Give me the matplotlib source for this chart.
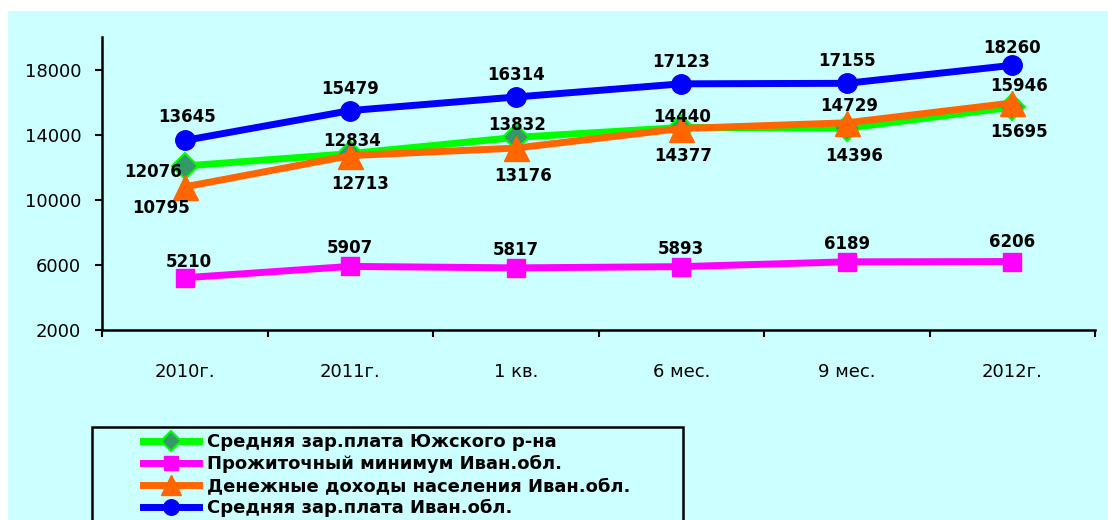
import matplotlib
matplotlib.use("Agg")
import matplotlib.pyplot as plt
from matplotlib.patches import Rectangle

categories = ["2010г.", "2011г.", "1 кв.", "6 мес.", "9 мес.", "2012г."]

south_salary = [12076, 12834, 13832, 14440, 14396, 15695]
living_min = [5210, 5907, 5817, 5893, 6189, 6206]
income = [10795, 12713, 13176, 14377, 14729, 15946]
region_salary = [13645, 15479, 16314, 17123, 17155, 18260]

names = ["Средняя зар.плата Южского р-на",
         "Прожиточный минимум Иван.обл.",
         "Денежные доходы населения Иван.обл.",
         "Средняя зар.плата Иван.обл."]

# label offsets in pixels (dx, dy)
off_south = [(-32, -6), (2, 13), (1, 12), (1, 11), (7, -28), (7, -25)]
off_min = [(4, 16), (0, 18), (0, 18), (0, 18), (0, 18), (0, 20)]
off_income = [(-24, -21), (10, -28), (7, -28), (2, -27), (2, 17), (7, 17)]
off_region = [(2, 23), (0, 22), (0, 22), (0, 22), (0, 22), (0, 17)]

bg = "#CCFFFF"
fig = plt.figure(figsize=(11.08, 5.20), dpi=100, facecolor="white")
fig.patches.append(Rectangle((8 / 1108, 0), 1, 1 - 11 / 520, transform=fig.transFigure,
                             facecolor=bg, edgecolor="none", zorder=-5))

ax = fig.add_axes([102 / 1108, 1 - 330 / 520, (1095 - 102) / 1108, (330 - 37) / 520])
ax.set_facecolor("none")

x = list(range(len(categories)))
series = [
    (south_salary, "#00FF00", dict(marker="D", markersize=13, markerfacecolor="#339966",
                                   markeredgecolor="#00FF00", markeredgewidth=1.5), off_south),
    (living_min, "#FF00FF", dict(marker="s", markersize=13), off_min),
    (income, "#FF6600", dict(marker="^", markersize=18), off_income),
    (region_salary, "#0000FF", dict(marker="o", markersize=14), off_region),
]

for (vals, color, mk, offs), name in zip(series, names):
    ax.plot(x, vals, color=color, linewidth=5, label=name, clip_on=False, **mk)
    for xi, v, (dx, dy) in zip(x, vals, offs):
        ax.annotate(str(v), (xi, v), xytext=(dx, dy), textcoords="offset pixels",
                    ha="center", va="center", fontsize=12, fontweight="bold",
                    color="black", zorder=10)

ax.set_xlim(-0.5, 5.5)
ax.set_ylim(2000, 20000)
ax.set_yticks([2000, 6000, 10000, 14000, 18000])
ax.tick_params(axis="y", labelsize=13, length=5, width=1.5, pad=10)

ax.set_xticks([i - 0.5 for i in range(7)])
ax.set_xticklabels([])
ax.set_xticks(x, minor=True)
ax.set_xticklabels(categories, minor=True)
ax.tick_params(axis="x", which="major", length=5, width=1.5)
ax.tick_params(axis="x", which="minor", length=0, labelsize=13, pad=24)

for s in ["top", "right"]:
    ax.spines[s].set_visible(False)
for s in ["left", "bottom"]:
    ax.spines[s].set_linewidth(1.8)

# legend frame
fig.patches.append(Rectangle((92 / 1108, -0.1), (683 - 92) / 1108, 0.1 + 1 - 427 / 520,
                             transform=fig.transFigure, facecolor="none",
                             edgecolor="black", linewidth=1.8, zorder=1))
leg = fig.legend(loc="upper left", bbox_to_anchor=(143 / 1108, 1 - 433 / 520),
                 frameon=False, borderpad=0, borderaxespad=0, handlelength=3.1,
                 handletextpad=0.45, labelspacing=0.22, markerscale=0.8,
                 prop={"weight": "bold", "size": 13})

fig.savefig("out.png", dpi=100, facecolor="white")
